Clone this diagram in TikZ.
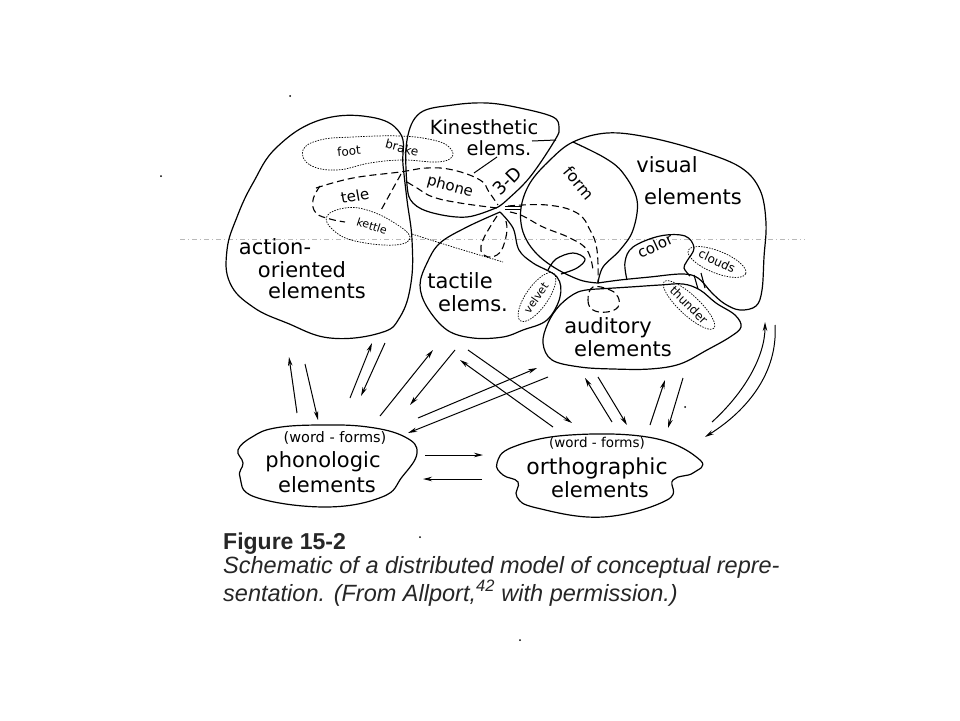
\documentclass[tikz,border=0pt]{standalone}
\usepackage{fontspec}
\setmainfont{Liberation Sans}
\newfontfamily\lettering{DejaVu Sans}
\usetikzlibrary{arrows.meta}
\begin{document}
\begin{tikzpicture}[x=1pt,y=-1pt,
  blob/.style={line width=1.2pt, line join=round},
  dashln/.style={line width=1.1pt, dash pattern=on 7pt off 4pt},
  dotln/.style={line width=0.7pt, dash pattern=on 1.5pt off 1.2pt},
  arr/.style={line width=1pt, -{Stealth[length=9pt,width=4.5pt]}},
  lbl/.style={font=\lettering\fontsize{21}{23}\selectfont, inner sep=0pt},
  sml/.style={font=\lettering\fontsize{12}{13}\selectfont, inner sep=0pt},
  mid/.style={font=\lettering\fontsize{15}{16}\selectfont, inner sep=0pt},
]
\useasboundingbox (0,0) rectangle (960,720);
\fill[white] (0,0) rectangle (960,720);

% scan artefacts
\draw[gray!55, line width=0.5pt, dash pattern=on 5pt off 3pt on 1pt off 3pt] (180,239) -- (805,239);
\foreach \p in {(290,96),(161,176),(420,537),(520,640),(685,407)} \fill \p circle (1);

% ---- action-oriented elements
\draw[blob] plot[smooth cycle, tension=0.7] coordinates {(320,120) (370,117) (400,133) (403,165) (407,200) (412,240) (411,283) (400,317) (380,333) (330,338) (287,323) (253,307) (230,283) (227,250) (237,217) (253,183) (277,147)};
% ---- kinesthetic
\draw[blob] plot[smooth, tension=0.6] coordinates {(498,207) (467,217) (433,213) (413,203) (407,185) (407,140) (420,113) (453,105) (487,103) (520,108) (553,117) (559,128) (555,140) (530,177) (507,200) (498,207)};
% ---- tactile
\draw[blob] plot[smooth, tension=0.6] coordinates {(500,212) (467,227) (440,243) (427,263) (420,285) (427,307) (447,330) (473,338) (503,337) (523,330) (547,320) (560,297) (557,277) (533,263) (519,250) (513,228) (500,212)};
% ---- visual
\draw[blob] plot[smooth, tension=0.6] coordinates {(598,283) (580,280) (555,268) (535,252) (523,232) (521,208) (530,183) (550,160) (573,142) (607,133) (647,137) (697,150) (740,167) (760,190) (766,223) (764,257) (762,290) (756,306) (740,310) (725,304) (712,293) (698,278) (682,274) (650,277) (620,280) (598,283)};
% form boundary
\draw[blob] plot[smooth, tension=0.6] coordinates {(573,142) (605,158) (623,173) (637,200) (633,230) (620,250) (603,267) (598,283)};
% colour bubble
\draw[blob] plot[smooth, tension=0.6] coordinates {(627,280) (625,262) (633,247) (660,236) (685,236) (694,248) (687,261) (684,268) (690,276)};
% small loop
\draw[blob] plot[smooth, tension=0.6] coordinates {(548,270) (556,259) (573,253) (585,259) (577,268) (561,274)};
% ---- auditory
\draw[blob] plot[smooth, tension=0.6] coordinates {(598,289) (578,292) (560,305) (548,323) (543,343) (552,360) (580,367) (613,369) (650,369) (680,364) (707,350) (730,337) (741,327) (735,315) (716,303) (700,290) (683,284) (660,285) (630,287) (598,289)};
% channel bridge
\draw[line width=1.1pt] (694,275) -- (698,289) (701,273) -- (705,288);
% double tick at convergence
\draw[line width=1pt] (505,206) -- (521,206) (505,209.5) -- (521,209.5);

% ---- dotted word bubbles
\draw[dotln] plot[smooth cycle, tension=0.7] coordinates {(303,150) (310,165) (337,170) (370,163) (403,160) (437,162) (452,157) (449,147) (433,140) (400,136) (353,137) (320,140)};
\draw[dotln] plot[smooth cycle, tension=0.7] coordinates {(327,216) (345,208) (367,210) (393,222) (410,237) (395,245) (355,241) (333,230)};
\draw[dotln] plot[smooth, tension=0.7] coordinates {(412,234) (453,247) (503,262)};
\draw[dotln, rotate around={-22:(717,262)}] (717,262) ellipse [x radius=31, y radius=11];
\draw[dotln, rotate around={-43:(689,305)}] (689,305) ellipse [x radius=34, y radius=10];
\draw[dotln, rotate around={55:(537,297)}] (537,297) ellipse [x radius=29, y radius=11];

% ---- dashed links
\draw[dashln] plot[smooth, tension=0.7] coordinates {(316,188) (353,178) (400,172) (427,168) (453,170) (480,180) (489,192) (498,205)};
\draw[dashln] plot[smooth, tension=0.7] coordinates {(497,208) (460,203) (433,197) (417,188) (407,182)};
\draw[dashln] plot[smooth, tension=0.7] coordinates {(320,186) (313,200) (316,213) (330,219) (345,222)};
\draw[dashln] (401,174) -- (380,212);
\draw[dashln] plot[smooth, tension=0.7] coordinates {(508,206) (547,205) (577,213) (590,230) (597,250) (598,283)};
\draw[dashln] plot[smooth, tension=0.7] coordinates {(510,212) (523,216) (543,227) (570,238) (587,250) (593,270)};
\draw[dashln] plot[smooth cycle, tension=0.7] coordinates {(593,287) (588,300) (593,310) (607,312) (618,307) (618,297) (610,290)};
\draw[dashln] plot[smooth, tension=0.7] coordinates {(497,216) (490,227) (483,240) (481,251) (488,257) (497,255) (503,247) (507,230) (505,218)};
% leaders
\draw[line width=1pt] (497,157) -- (474,173) (532,141) -- (556,140);

% ---- phonologic and orthographic
\draw[blob] plot[smooth cycle, tension=0.7] coordinates {(252,437) (275,428) (318,425) (368,427) (405,437) (417,453) (402,477) (382,497) (325,507) (255,497) (240,477) (243,463) (238,450)};
\draw[blob] plot[smooth cycle, tension=0.7] coordinates {(513,447) (570,435) (653,438) (700,460) (693,473) (673,480) (667,500) (603,517) (537,508) (517,497) (518,482) (503,475) (497,463)};

% ---- labels
\node[lbl] (act1) at (275,247) {action-};
\node[lbl] (act2) at (302,270) {oriented};
\node[lbl] (act3) at (317,291) {elements};
\node[lbl, font=\lettering\fontsize{19.5}{21}\selectfont] (kin1) at (484,127) {Kinesthetic};
\node[lbl, font=\lettering\fontsize{19.5}{21}\selectfont] (kin2) at (499,148) {elems.};
\node[lbl, font=\lettering\fontsize{18}{19}\selectfont, rotate=45] (td) at (507,181) {3-D};
\node[mid, rotate=-15] (ph) at (450,187) {phone};
\node[mid, rotate=10] (te) at (355,196) {tele};
\node[sml, font=\lettering\fontsize{11}{12}\selectfont, rotate=-18] (ke) at (372,226) {kettle};
\node[sml, rotate=5] (ft) at (349,151) {foot};
\node[sml, rotate=-15] (br) at (402,148) {brake};
\node[lbl] (tac1) at (460,281) {tactile};
\node[lbl] (tac2) at (473,304) {elems.};
\node[sml, font=\lettering\fontsize{11}{12}\selectfont, rotate=55] (vv) at (536,298) {velvet};
\node[mid, font=\lettering\fontsize{16}{17}\selectfont, rotate=-50] (fo) at (579,183) {form};
\node[lbl] (vis1) at (667,165) {visual};
\node[lbl] (vis2) at (693,197) {elements};
\node[mid, rotate=25] (co) at (655,246) {color};
\node[sml, rotate=-25] (cl) at (717,261) {clouds};
\node[sml, rotate=-45] (th) at (689,305) {thunder};
\node[lbl] (aud1) at (608,328) {auditory};
\node[lbl] (aud2) at (623,349) {elements};
\node[mid, font=\lettering\fontsize{14.5}{16}\selectfont] (pw) at (335,438) {(word - forms)};
\node[lbl] (pho1) at (323,462) {phonologic};
\node[lbl] (pho2) at (327,485) {elements};
\node[mid, font=\lettering\fontsize{13.5}{15}\selectfont] (ow) at (597,443) {(word - forms)};
\node[lbl, font=\lettering\fontsize{22}{24}\selectfont] (ort1) at (597,468) {orthographic};
\node[lbl] (ort2) at (600,490) {elements};

% ---- arrows
\coordinate (a1s) at (297,413); \coordinate (a1e) at (289,357);
\coordinate (a2s) at (305,364); \coordinate (a2e) at (318,420);
\coordinate (a3s) at (350,398); \coordinate (a3e) at (372,343);
\coordinate (a4s) at (385,343); \coordinate (a4e) at (361,396);
\coordinate (a5s) at (380,416); \coordinate (a5e) at (433,350);
\coordinate (a6s) at (455,350); \coordinate (a6e) at (410,405);
\coordinate (a7s) at (468,350); \coordinate (a7e) at (572,423);
\coordinate (a8s) at (553,427); \coordinate (a8e) at (460,360);
\coordinate (a9s) at (418,418); \coordinate (a9e) at (537,368);
\coordinate (a10s) at (548,377); \coordinate (a10e) at (408,433);
\coordinate (a11s) at (612,422); \coordinate (a11e) at (585,378);
\coordinate (a12s) at (598,377); \coordinate (a12e) at (627,425);
\coordinate (a13s) at (650,425); \coordinate (a13e) at (665,380);
\coordinate (a14s) at (683,378); \coordinate (a14e) at (668,428);
\coordinate (a15s) at (712,422); \coordinate (a15e) at (765,322);
\coordinate (a16s) at (775,325); \coordinate (a16e) at (705,437);
\coordinate (a17s) at (425,455); \coordinate (a17e) at (483,455);
\coordinate (a18s) at (482,479); \coordinate (a18e) at (423,479);
\foreach \i in {1,...,14,17,18} \draw[arr] (a\i s) -- (a\i e);
\draw[arr] (a15s) .. controls (745,392) and (765,356) .. (a15e);
\draw[arr] (a16s) .. controls (778,372) and (748,410) .. (a16e);

% ---- caption
\node[anchor=base west, inner sep=0pt, text=black!85, font=\bfseries\fontsize{23}{26}\selectfont] (fig) at (223,549) {Figure 15-2};
\node[anchor=base west, inner sep=0pt, text=black!85, font=\itshape\fontsize{23.5}{28}\selectfont] (cap1) at (223,573) {Schematic of a distributed model of conceptual repre-};
\node[anchor=base west, inner sep=0pt, text=black!85, font=\itshape\fontsize{23.5}{28}\selectfont] (cap2) at (223,601) {sentation. (From Allport,\textsuperscript{42} with permission.)};
\end{tikzpicture}
\end{document}
